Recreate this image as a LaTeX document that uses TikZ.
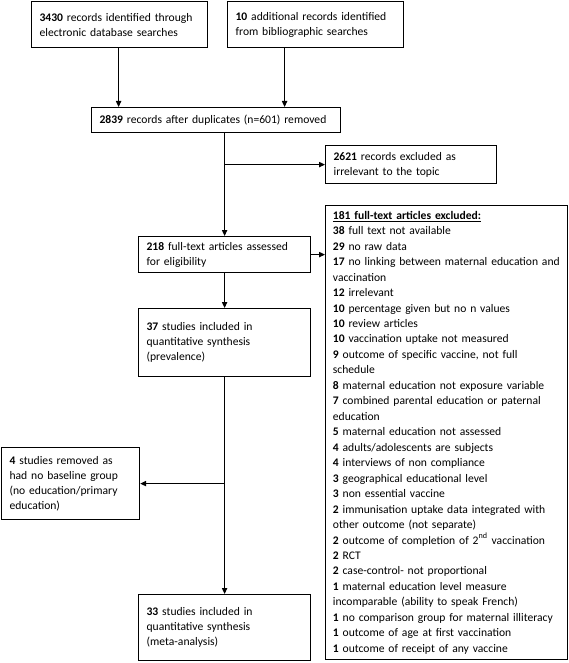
\documentclass[tikz,border=0pt]{standalone}
\usepackage{fontspec}
\setmainfont{Carlito}
\usepackage{tikz}
\usetikzlibrary{positioning, arrows.meta, calc}
\tikzset{every node/.append style={execute at begin node={\hyphenpenalty=10000\exhyphenpenalty=10000\relax}}}

\begin{document}
\begin{tikzpicture}[x=0.75pt, y=-0.75pt,
  font=\fontsize{8.7}{11.2}\selectfont,
  box/.style={draw, line width=0.9pt, anchor=north west, align=left, inner xsep=6pt, inner ysep=0pt},
  flow/.style={line width=0.8pt, -{Triangle[length=4.5pt, width=4pt]}}]
  \useasboundingbox (0,0) rectangle (568,663);
  % identification
  \node[box, text width=120pt, minimum height=34.5pt] (srcdb) at (31,1) {\textbf{3430} records identified through\\electronic database searches};
  \node[box, text width=120pt, minimum height=34.5pt] (srcbib) at (227,1) {\textbf{10} additional records identified\\from bibliographic searches};
  \node[box, text width=174.75pt, minimum height=18.75pt] (dedup) at (91,107) {\textbf{2839} records after duplicates (n=601) removed};
  % screening
  \node[box, text width=116.25pt, minimum height=28.5pt] (irrel) at (325,145) {\textbf{2621} records excluded as\\irrelevant to the topic};
  \node[box, text width=117pt, minimum height=27pt] (fulltext) at (138,236) {\textbf{218} full-text articles assessed\\for eligibility};
  \node[box, inner xsep=5.5pt, text width=170.5pt, minimum height=340.5pt, font=\fontsize{8.7}{11.6}\selectfont] (ftexcl) at (325,205) {\textbf{\underline{181 full-text articles excluded:}}\\
    \textbf{38} full text not available\\
    \textbf{29} no raw data\\
    \textbf{17} no linking between maternal education~and\\vaccination\\
    \textbf{12} irrelevant\\
    \textbf{10} percentage given but no n values\\
    \textbf{10} review articles\\
    \textbf{10} vaccination uptake not measured\\
    \textbf{9} outcome of specific vaccine, not full\\schedule\\
    \textbf{8} maternal education not exposure~variable\\
    \textbf{7} combined parental education or paternal\\education\\
    \textbf{5} maternal education not assessed\\
    \textbf{4} adults/adolescents are subjects\\
    \textbf{4} interviews of non compliance\\
    \textbf{3} geographical educational level\\
    \textbf{3} non essential vaccine\\
    \textbf{2} immunisation uptake data integrated~with\\other outcome (not separate)\\
    \textbf{2} outcome of completion of 2\textsuperscript{nd}~vaccination\\
    \textbf{2} RCT\\
    \textbf{2} case-control- not proportional\\
    \textbf{1} maternal education level measure\\incomparable (ability to speak French)\\
    \textbf{1} no comparison group for maternal~illiteracy\\
    \textbf{1} outcome of age at first vaccination\\
    \textbf{1} outcome of receipt of any vaccine};
  % included
  \node[box, text width=117pt, minimum height=51pt] (prev) at (138,308) {\textbf{37} studies included in\\quantitative synthesis\\(prevalence)};
  \node[box, text width=91.5pt, minimum height=54pt] (nobase) at (1,447) {\textbf{4} studies removed as\\had no baseline group\\(no education/primary\\education)};
  \node[box, text width=117pt, minimum height=49.5pt] (meta) at (138,594) {\textbf{33} studies included in\\quantitative synthesis\\(meta-analysis)};
  % connectors
  \draw[flow] ([xshift=-0.75pt]srcdb.south) -- ([xshift=-0.75pt]srcdb.south |- dedup.north);
  \draw[flow] ([xshift=-23.25pt]srcbib.south) -- ([xshift=-23.25pt]srcbib.south |- dedup.north);
  \draw[flow] (dedup.south -| fulltext.north) -- (fulltext.north);
  \draw[flow] (irrel.west -| fulltext.north) -- (irrel.west);
  \draw[flow] (fulltext.east) -- (fulltext.east -| ftexcl.west);
  \draw[flow] (fulltext.south) -- (prev.north);
  \draw[flow] (prev.south) -- (meta.north);
  \draw[flow] (nobase.east -| prev.south) -- (nobase.east);
\end{tikzpicture}
\end{document}
